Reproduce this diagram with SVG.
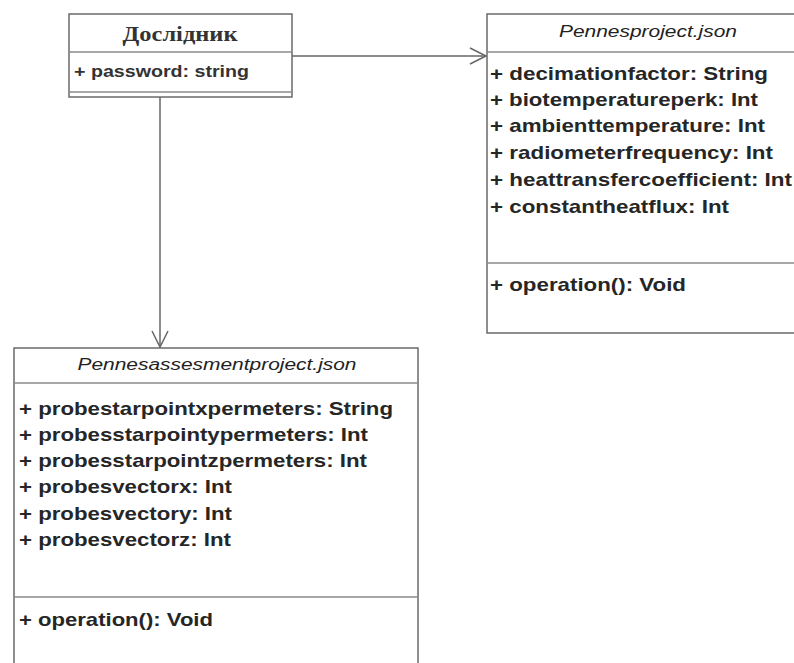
<svg xmlns="http://www.w3.org/2000/svg" width="794" height="663" viewBox="0 0 794 663">
  <defs>
    <style>
      .box { fill: #ffffff; stroke: #6a6a6a; stroke-width: 1.5; }
      .sep { stroke: #8a8a8a; stroke-width: 1.5; fill: none; }
      .title { font-family: "Liberation Sans", Arial, sans-serif; font-style: italic; font-size: 16px; fill: #222; text-anchor: middle; }
      .ctitle { font-family: "Liberation Serif", "Times New Roman", serif; font-weight: bold; font-size: 20px; fill: #333; text-anchor: middle; }
      .attr { font-family: "Liberation Sans", Arial, sans-serif; font-weight: bold; font-size: 19px; fill: #262626; }
      .attr-s { font-family: "Liberation Sans", Arial, sans-serif; font-weight: bold; font-size: 16px; fill: #333; }
      .conn { stroke: #666; stroke-width: 1.5; fill: none; }
    </style>
    <marker id="open" viewBox="0 0 20 20" refX="18" refY="10" markerWidth="20" markerHeight="20" markerUnits="userSpaceOnUse" orient="auto">
      <path d="M2,2 L18,10 L2,18" fill="none" stroke="#666" stroke-width="1.5"/>
    </marker>
  </defs>

  <g id="connectors">
    <line class="conn" x1="292" y1="56" x2="486" y2="56" marker-end="url(#open)"/>
    <line class="conn" x1="160" y1="97" x2="160" y2="347" marker-end="url(#open)"/>
  </g>

  <g id="doslidnyk">
    <rect class="box" x="69" y="14" width="223" height="83"/>
    <line class="sep" x1="69" y1="52" x2="292" y2="52"/>
    <line class="sep" x1="69" y1="92" x2="292" y2="92"/>
    <text class="ctitle" x="180" y="41" textLength="115" lengthAdjust="spacingAndGlyphs">Дослідник</text>
    <text class="attr-s" x="74" y="77" textLength="175" lengthAdjust="spacingAndGlyphs">+ password: string</text>
  </g>

  <g id="pennesproject">
    <rect class="box" x="487" y="14" width="323" height="319"/>
    <line class="sep" x1="487" y1="52" x2="810" y2="52"/>
    <line class="sep" x1="487" y1="263" x2="810" y2="263"/>
    <text class="title" x="648" y="37" textLength="178" lengthAdjust="spacingAndGlyphs">Pennesproject.json</text>
    <text class="attr" x="490" y="80" textLength="278" lengthAdjust="spacingAndGlyphs">+ decimationfactor: String</text>
    <text class="attr" x="490" y="106" textLength="268" lengthAdjust="spacingAndGlyphs">+ biotemperatureperk: Int</text>
    <text class="attr" x="490" y="132" textLength="275" lengthAdjust="spacingAndGlyphs">+ ambienttemperature: Int</text>
    <text class="attr" x="490" y="159" textLength="283" lengthAdjust="spacingAndGlyphs">+ radiometerfrequency: Int</text>
    <text class="attr" x="490" y="186" textLength="302" lengthAdjust="spacingAndGlyphs">+ heattransfercoefficient: Int</text>
    <text class="attr" x="490" y="213" textLength="239" lengthAdjust="spacingAndGlyphs">+ constantheatflux: Int</text>
    <text class="attr" x="490" y="291" textLength="196" lengthAdjust="spacingAndGlyphs">+ operation(): Void</text>
  </g>

  <g id="pennesassesmentproject">
    <rect class="box" x="14" y="348" width="404" height="330"/>
    <line class="sep" x1="14" y1="383" x2="418" y2="383"/>
    <line class="sep" x1="14" y1="597" x2="418" y2="597"/>
    <text class="title" x="217" y="370" textLength="279" lengthAdjust="spacingAndGlyphs">Pennesassesmentproject.json</text>
    <text class="attr" x="19" y="415" textLength="374" lengthAdjust="spacingAndGlyphs">+ probestarpointxpermeters: String</text>
    <text class="attr" x="19" y="441" textLength="349" lengthAdjust="spacingAndGlyphs">+ probesstarpointypermeters: Int</text>
    <text class="attr" x="19" y="467" textLength="348" lengthAdjust="spacingAndGlyphs">+ probesstarpointzpermeters: Int</text>
    <text class="attr" x="19" y="493" textLength="213" lengthAdjust="spacingAndGlyphs">+ probesvectorx: Int</text>
    <text class="attr" x="19" y="520" textLength="213" lengthAdjust="spacingAndGlyphs">+ probesvectory: Int</text>
    <text class="attr" x="19" y="546" textLength="212" lengthAdjust="spacingAndGlyphs">+ probesvectorz: Int</text>
    <text class="attr" x="19" y="626" textLength="194" lengthAdjust="spacingAndGlyphs">+ operation(): Void</text>
  </g>
</svg>
